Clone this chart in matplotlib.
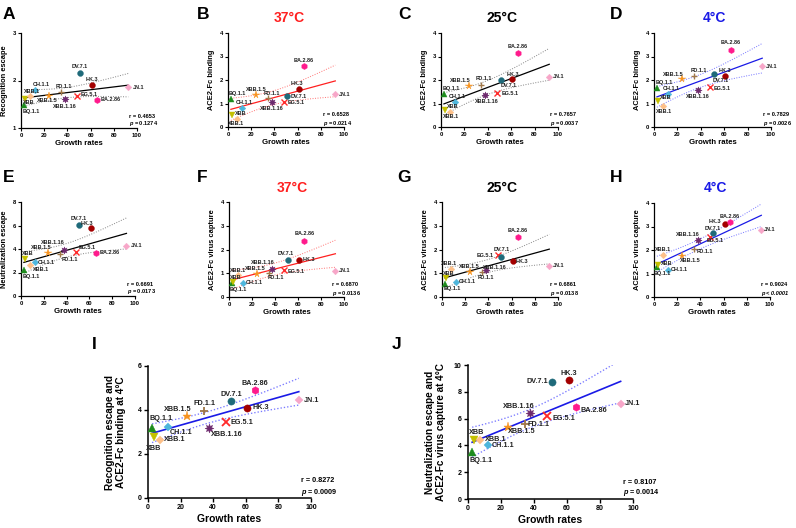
import numpy as np
import matplotlib
matplotlib.use('Agg')
import matplotlib.pyplot as plt

plt.rcParams['font.family'] = ['Liberation Sans', 'DejaVu Sans']
plt.rcParams['mathtext.fontset'] = 'custom'
plt.rcParams['mathtext.rm'] = 'Liberation Sans:bold'
plt.rcParams['mathtext.it'] = 'Liberation Sans:italic:bold'
plt.rcParams['mathtext.bf'] = 'Liberation Sans:bold'

# ---------------- data ----------------
variants = ['BQ.1.1', 'XBB', 'XBB.1', 'CH.1.1', 'XBB.1.5', 'FD.1.1',
            'XBB.1.16', 'EG.5.1', 'DV.7.1', 'HK.3', 'BA.2.86', 'JN.1']
growth = [2.5, 3.5, 7.5, 12, 24, 34.5, 37.5, 48, 51, 61, 65.5, 92.5]

recog_escape = [1.48, 1.62, 1.67, 1.81, 1.67, 1.76, 1.61, 1.68, 2.16, 1.91, 1.60, 1.86]
binding_37 = [1.19, 0.50, 0.35, 0.82, 1.36, 1.25, 1.05, 1.05, 1.33, 1.62, 2.61, 1.40]
binding_25 = [1.40, 0.71, 0.65, 1.06, 1.73, 1.79, 1.36, 1.46, 1.99, 2.04, 3.15, 2.13]
binding_4 = [1.65, 1.11, 0.91, 1.42, 2.04, 2.17, 1.57, 1.70, 2.26, 2.17, 3.29, 2.58]
neut_escape = [2.20, 3.11, 2.63, 2.91, 3.62, 3.56, 3.95, 3.76, 6.02, 5.82, 3.70, 4.27]
capture_37 = [0.58, 0.64, 0.92, 0.61, 0.95, 1.03, 1.20, 1.12, 1.57, 1.57, 2.36, 1.10]
capture_25 = [0.55, 0.81, 1.17, 0.64, 1.06, 1.05, 1.12, 1.75, 1.70, 1.50, 2.54, 1.31]
capture_4 = [1.26, 1.38, 1.80, 1.15, 1.73, 2.06, 2.43, 2.54, 2.72, 3.11, 3.18, 2.87]
recog_binding_4 = [3.17, 2.76, 2.64, 3.22, 3.72, 3.95, 3.17, 3.44, 4.40, 4.10, 4.90, 4.45]
neut_capture_4 = [3.48, 4.40, 4.40, 4.03, 5.35, 5.60, 6.39, 6.22, 8.76, 8.88, 6.89, 7.09]

r_texts = ['r = 0.4653', 'r = 0.6528', 'r = 0.7657', 'r = 0.7829', 'r = 0.6691',
           'r = 0.6870', 'r = 0.6861', 'r = 0.9024', 'r = 0.8272', 'r = 0.8107']
p_values = ['0.1274', '0.0214', '0.0037', '0.0026', '0.0173',
            '0.0136', '0.0138', '< 0.0001', '0.0009', '0.0014']

# ---------------- styles ----------------
vstyle = {
    'BQ.1.1': ('^', '#1e8c1e'),
    'XBB': ('v', '#c4c000'),
    'XBB.1': ('D', '#fdc089'),
    'CH.1.1': ('D', '#4db6dc'),
    'XBB.1.5': ('*', '#f7931e'),
    'FD.1.1': ('+', '#a0784a'),
    'XBB.1.16': ((8, 1, 0), '#6e2a6e'),
    'EG.5.1': ('x', '#ff2a2a'),
    'DV.7.1': ('o', '#1f6a7a'),
    'HK.3': ('o', '#a30000'),
    'BA.2.86': ('h', '#ff1a8c'),
    'JN.1': ('D', '#f7a6c8'),
}
size_scale = {'^': 1.0, 'v': 1.0, 'D': 0.8, '*': 1.3, '+': 1.1, 'x': 1.0,
              'o': 1.0, 'h': 1.05}

W, H = 796, 528
C_BLACK = ('black', '#8a8a8a')
C_RED = ('#ff2020', '#ff7a7a')
C_BLUE = ('#1a1ae6', '#7a7aff')

# label offsets (pixels, dx, dy, ha)
L = 'left'; C = 'center'; R = 'right'
offs_A = {'DV.7.1': (0, 6, C), 'HK.3': (0, 5, C), 'JN.1': (5, 0, L), 'CH.1.1': (6, 5, C),
          'XBB.1': (2, 5, C), 'FD.1.1': (3, 5, C), 'XBB.1.5': (-2, -4, C), 'XBB': (4, -4, C),
          'XBB.1.16': (0, -7, C), 'EG.5.1': (4, 1, L), 'BA.2.86': (4, 0, L), 'BQ.1.1': (7, -6, C)}
offs_B = {'BA.2.86': (0, 5, C), 'HK.3': (-2, 5, C), 'JN.1': (4, 0, L), 'DV.7.1': (3, -1, L),
          'XBB.1.5': (0, 6, C), 'FD.1.1': (4, 4, C), 'BQ.1.1': (6, 6, C), 'XBB.1.16': (0, -6, C),
          'EG.5.1': (4, 0, L), 'CH.1.1': (2, 5, C), 'XBB': (9, 2, C), 'XBB.1': (-1, -5, C)}
offs_C = {'BA.2.86': (0, 6, C), 'JN.1': (4, 0, L), 'HK.3': (1, 5, C), 'DV.7.1': (8, -5, C),
          'FD.1.1': (2, 6, C), 'XBB.1.5': (-9, 6, C), 'EG.5.1': (4, -1, L), 'BQ.1.1': (7, 6, C),
          'XBB.1.16': (2, -6, C), 'CH.1.1': (2, 6, C), 'XBB': (8, 4, C), 'XBB.1': (1, -5, C)}
offs_D = {'BA.2.86': (0, 7, C), 'JN.1': (4, 0, L), 'DV.7.1': (7, -7, C), 'HK.3': (0, 6, C),
          'FD.1.1': (4, 6, C), 'XBB.1.5': (-9, 5, C), 'EG.5.1': (3, -1, L), 'BQ.1.1': (7, 6, C),
          'XBB.1.16': (0, -6, C), 'CH.1.1': (3, 5, C), 'XBB': (8, 3, C), 'XBB.1': (1, -6, C)}
offs_E = {'DV.7.1': (0, 7, C), 'HK.3': (-4, 4, C), 'JN.1': (4, 0, L), 'XBB.1.16': (-11, 7, C),
          'EG.5.1': (11, 4, C), 'BA.2.86': (4, 0, L), 'XBB.1.5': (-7, 6, C), 'FD.1.1': (9, -5, C),
          'XBB': (3, 6, C), 'CH.1.1': (3, -1, L), 'XBB.1': (11, -4, C), 'BQ.1.1': (7, -6, C)}
offs_F = {'BA.2.86': (0, 7, C), 'DV.7.1': (-2, 6, C), 'HK.3': (3, 0, L), 'XBB.1.16': (-9, 6, C),
          'EG.5.1': (3, -1, L), 'JN.1': (4, 0, L), 'FD.1.1': (7, -5, C), 'XBB.1.5': (-1, 6, C),
          'XBB.1': (0, 5, C), 'XBB': (3, 4, C), 'CH.1.1': (3, 0, L), 'BQ.1.1': (6, -6, C)}
offs_G = {'BA.2.86': (0, 6, C), 'EG.5.1': (-4, 0, R), 'DV.7.1': (1, 7, C), 'HK.3': (3, 0, L),
          'XBB.1': (-2, 6, C), 'XBB.1.16': (9, 3, C), 'JN.1': (4, 0, L), 'FD.1.1': (4, -5, C),
          'XBB.1.5': (-1, 5, C), 'XBB': (3, 4, C), 'CH.1.1': (3, 0, L), 'BQ.1.1': (7, -5, C)}
offs_H = {'BA.2.86': (0, 6, C), 'HK.3': (-4, 2, R), 'JN.1': (3, 0, L), 'DV.7.1': (0, 5, C),
          'EG.5.1': (5, -3, C), 'XBB.1.16': (-10, 5, C), 'FD.1.1': (3, -3, L), 'XBB.1': (0, 5, C),
          'XBB.1.5': (8, -4, C), 'XBB': (9, 1, C), 'BQ.1.1': (5, -6, C), 'CH.1.1': (3, 0, L)}
offs_I = {'BA.2.86': (0, 7, C), 'JN.1': (5, 0, L), 'DV.7.1': (0, 7, C), 'HK.3': (5, 0, L),
          'FD.1.1': (0, 8, C), 'XBB.1.5': (-9, 7, C), 'EG.5.1': (4, 0, L), 'CH.1.1': (14, -5, C),
          'XBB.1.16': (18, -6, C), 'BQ.1.1': (9, 10, C), 'XBB': (0, -11, C), 'XBB.1': (4, 0, L)}
offs_J = {'HK.3': (0, 7, C), 'DV.7.1': (-4, 0, R), 'JN.1': (4, 0, L), 'BA.2.86': (4, -4, L),
          'XBB.1.16': (-11, 7, C), 'EG.5.1': (5, -3, L), 'FD.1.1': (3, -1, L), 'XBB.1.5': (14, -4, C),
          'XBB': (3, 8, C), 'XBB.1': (5, 1, L), 'CH.1.1': (4, -1, L), 'BQ.1.1': (9, -8, C)}

# panel specs: letter, y data, ylabel, ylim, yticks, box(px: left,right,top,bottom), colors, offs, big, rx
panels = [
    ('A', recog_escape, 'Recognition escape', (1, 3), [1, 2, 3], (21, 137, 33, 128), C_BLACK, offs_A, False, 0.93),
    ('B', binding_37, 'ACE2-Fc binding', (0, 4), [0, 1, 2, 3, 4], (228, 344, 33, 127), C_RED, offs_B, False, 0.82),
    ('C', binding_25, 'ACE2-Fc binding', (0, 4), [0, 1, 2, 3, 4], (441, 558, 33, 127), C_BLACK, offs_C, False, 0.93),
    ('D', binding_4, 'ACE2-Fc binding', (0, 4), [0, 1, 2, 3, 4], (654, 771, 33, 127), C_BLUE, offs_D, False, 0.93),
    ('E', neut_escape, 'Neutralization escape', (0, 8), [0, 2, 4, 6, 8], (21, 135, 202, 296), C_BLACK, offs_E, False, 0.93),
    ('F', capture_37, 'ACE2-Fc virus capture', (0, 4), [0, 1, 2, 3, 4], (229, 344, 202, 297), C_RED, offs_F, False, 0.90),
    ('G', capture_25, 'ACE2-Fc virus capture', (0, 4), [0, 1, 2, 3, 4], (442, 558, 202, 297), C_BLACK, offs_G, False, 0.93),
    ('H', capture_4, 'ACE2-Fc virus capture', (0, 4), [0, 1, 2, 3, 4], (654, 770, 203, 297), C_BLUE, offs_H, False, 0.92),
    ('I', recog_binding_4, 'Recognition escape and\nACE2-Fc binding at 4\u00b0C', (0, 6), [0, 2, 4, 6], (148, 311, 366, 498), C_BLUE, offs_I, True, 0.94),
    ('J', neut_capture_4, 'Neutralization escape and\nACE2-Fc virus capture at 4\u00b0C', (0, 10), [0, 2, 4, 6, 8, 10], (468, 633, 365, 499), C_BLUE, offs_J, True, 0.94),
]
letter_pos = {'A': (3, 7), 'B': (197, 7), 'C': (398, 7), 'D': (610, 7),
              'E': (3, 170), 'F': (197, 170), 'G': (397, 170), 'H': (610, 170),
              'I': (92, 337), 'J': (392, 337)}
titles = [('37\u00b0C', 289, 18, '#ff2020'), ('25\u00b0C', 502, 18, 'black'), ('4\u00b0C', 714, 18, '#1a1ae6'),
          ('37\u00b0C', 292, 188, '#ff2020'), ('25\u00b0C', 502, 188, 'black'), ('4\u00b0C', 715, 188, '#1a1ae6')]

fig = plt.figure(figsize=(W / 100, H / 100), dpi=100)

x = np.array(growth, dtype=float)
n = len(x)
t_crit = 2.228  # t(0.975, df=10)

for (letter, yv, ylabel, ylim, yticks, box, cols, offs, big, rx), rt, pv in zip(panels, r_texts, p_values):
    l, r, t, b = box
    ax = fig.add_axes([l / W, 1 - b / H, (r - l) / W, (b - t) / H])
    y = np.array(yv, dtype=float)
    fs_tick = 5 if big else 4.2
    fs_lab = 7.5 if big else 5.6
    fs_pt = 5.2 if big else 4.0
    fs_r = 5.2 if big else 4.1
    ms = 5.2 if big else 4.2
    lw = 1.2 if big else 0.9

    # regression and 95% CI band
    slope, intercept = np.polyfit(x, y, 1)
    xs = np.linspace(x.min(), x.max(), 100)
    yfit = slope * xs + intercept
    resid = y - (slope * x + intercept)
    s = np.sqrt(np.sum(resid ** 2) / (n - 2))
    sxx = np.sum((x - x.mean()) ** 2)
    se = s * np.sqrt(1 / n + (xs - x.mean()) ** 2 / sxx)
    ax.plot(xs, yfit, color=cols[0], lw=lw, zorder=2)
    ax.plot(xs, yfit + t_crit * se, color=cols[1], lw=lw * 0.8, ls=(0, (1, 1.5)), zorder=2)
    ax.plot(xs, yfit - t_crit * se, color=cols[1], lw=lw * 0.8, ls=(0, (1, 1.5)), zorder=2)

    for v, xi, yi in zip(variants, x, y):
        mk, col = vstyle[v]
        sc = size_scale.get(mk, 1.0) if isinstance(mk, str) else 1.25
        if mk in ('+', 'x'):
            ax.plot(xi, yi, marker=mk, color=col, ms=ms * sc, mew=lw * 1.1, ls='none', clip_on=False, zorder=3)
        else:
            ax.plot(xi, yi, marker=mk, color=col, mfc=col, mec=col, ms=ms * sc, mew=0.3, ls='none', clip_on=False, zorder=3)
        dx, dy, ha = offs[v]
        ax.annotate(v, (xi, yi), xytext=(dx, dy), textcoords='offset pixels', ha=ha, va='center',
                    fontsize=fs_pt, fontweight='bold', color='#222222', zorder=4, annotation_clip=False)

    ax.set_xlim(0, 100)
    ax.set_ylim(*ylim)
    ax.set_xticks([0, 20, 40, 60, 80, 100])
    ax.set_yticks(yticks)
    for sp in ['top', 'right']:
        ax.spines[sp].set_visible(False)
    for sp in ['left', 'bottom']:
        ax.spines[sp].set_linewidth(1.1 if big else 0.9)
    ax.tick_params(axis='both', direction='out', length=3 if big else 2.2, width=1.0 if big else 0.8,
                   labelsize=fs_tick, pad=1.5)
    for lab in ax.get_xticklabels() + ax.get_yticklabels():
        lab.set_fontweight('bold')
    ax.set_xlabel('Growth rates', fontsize=fs_lab, fontweight='bold', labelpad=2 if big else 1.5)
    ax.set_ylabel(ylabel, fontsize=(7.2 if big else 5.4), fontweight='bold', linespacing=1.1)
    wpx = r - l
    ax.yaxis.set_label_coords(-(22 if big else 13) / wpx, 0.5)
    hpx = b - t
    ax.text(rx, (17 if big else 12) / hpx, rt, transform=ax.transAxes, ha='left', va='center',
            fontsize=fs_r, fontweight='bold')
    if pv.startswith('<'):
        ax.text(rx, (6 if big else 4) / hpx, 'p ' + pv, transform=ax.transAxes, ha='left', va='center',
                fontsize=fs_r, fontweight='bold', fontstyle='italic')
    else:
        ax.text(rx, (6 if big else 4) / hpx, r'$p$ = ' + pv, transform=ax.transAxes, ha='left', va='center',
                fontsize=fs_r, fontweight='bold')

for letter, (px, py) in letter_pos.items():
    fig.text(px / W, 1 - py / H, letter, ha='left', va='top', fontsize=12.5, fontweight='bold')

for txt, px, py, col in titles:
    fig.text(px / W, 1 - py / H, txt, ha='center', va='center', fontsize=10, fontweight='bold', color=col)

fig.savefig('out.png', dpi=100)
